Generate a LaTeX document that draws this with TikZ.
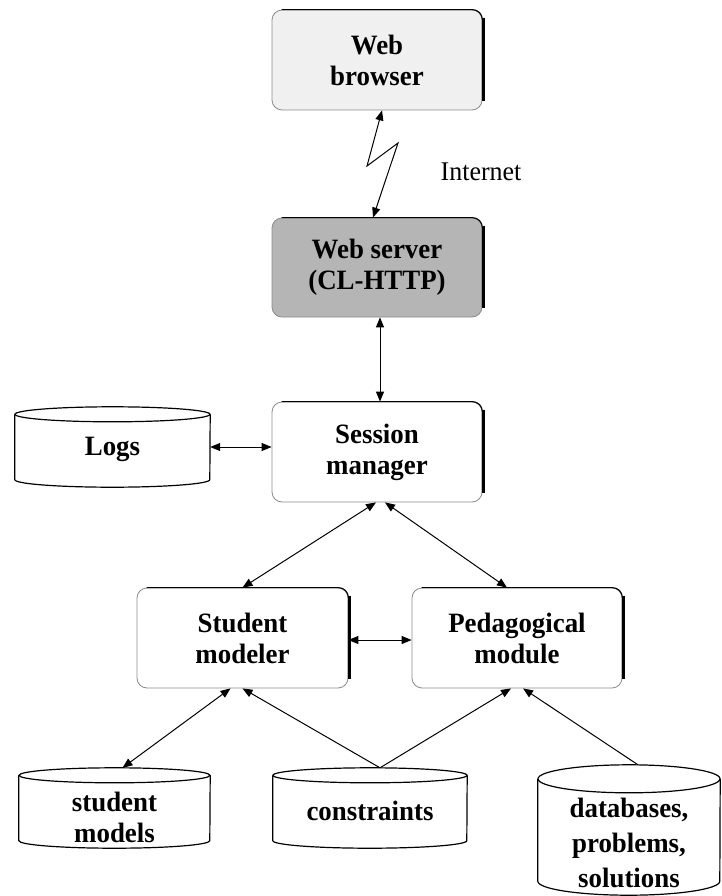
\documentclass[tikz,border=0pt]{standalone}
\usepackage{fontspec}
\setmainfont{Liberation Serif}[FakeStretch=0.96]
\usetikzlibrary{arrows.meta}

% raised-panel edge: dark top line and a heavy right edge
\newcommand{\edgeshade}[1]{%
  \draw[line width=1.1pt,black] ([xshift=10pt]#1.north west) -- ([xshift=-10pt]#1.north east)
    arc[start angle=90,end angle=0,radius=10pt] -- ([yshift=10pt]#1.south east);
  \draw[line width=2.4pt,black] ([xshift=0.9pt,yshift=-8pt]#1.north east) -- ([xshift=0.9pt,yshift=9pt]#1.south east);
}
% drum outline around a storage node: name, half width, lid radius
\newcommand{\drum}[3]{%
  \draw[drumline] ([yshift=-#3]#1.north) ellipse[x radius=#2, y radius=#3];
  \draw[drumline] ([yshift=-#3]#1.north west) -- ([yshift=#3]#1.south west)
    arc[start angle=180,end angle=360,x radius=#2,y radius=#3] -- ([yshift=-#3]#1.north east);
}

\begin{document}
\begin{tikzpicture}[x=1pt,y=1pt,
  font=\fontsize{28}{31}\selectfont\bfseries,
  panel/.style={draw=black!45,line width=0.8pt,rounded corners=10pt,fill=white,
    minimum width=210pt,minimum height=100pt,align=center,inner sep=0pt},
  store/.style={inner sep=0pt,align=center},
  drumline/.style={line width=1.2pt,black},
  link/.style={line width=1pt,black,-{Triangle[length=10pt,width=8pt]}},
  duplex/.style={line width=1pt,black,{Triangle[length=10pt,width=8pt]}-{Triangle[length=10pt,width=8pt]}}]

\fill[white] (0,0) rectangle (721,-896);
\useasboundingbox (0,0) rectangle (721,-896);

% boxes
\node[panel,fill=black!6] (browser) at (377,-60) {Web\\browser};
\edgeshade{browser}
\node[panel,fill=black!29,minimum height=99pt] (server) at (377,-267.5) {Web server\\(CL-HTTP)};
\edgeshade{server}
\node[panel] (session) at (377,-452) {Session\\manager};
\edgeshade{session}
\node[panel,minimum width=211pt] (student) at (242.5,-638) {Student\\modeler};
\edgeshade{student}
\node[panel] (pedagog) at (517,-638) {Pedagogical\\module};
\edgeshade{pedagog}

% storage drums
\node[store,minimum width=195pt,minimum height=80pt,
  label={[yshift=-2pt]center:Logs}] (logs) at (112.5,-447) {};
\drum{logs}{97.5pt}{7.5pt}
\node[store,minimum width=191pt,minimum height=80pt,
  label={[yshift=-9pt,align=center]center:student\\models}] (stmodels) at (114.5,-808) {};
\drum{stmodels}{95.5pt}{7.5pt}
\node[store,minimum width=194pt,minimum height=80pt,
  label={[yshift=-3pt]center:constraints}] (constraints) at (370,-808) {};
\drum{constraints}{97pt}{7.5pt}
\node[store,minimum width=182pt,minimum height=130pt,
  label={[yshift=-13pt,align=center,font=\fontsize{28}{35}\selectfont\bfseries]center:databases,\\problems,\\solutions}] (databases) at (629,-830) {};
\drum{databases}{91pt}{14pt}

% internet link
\coordinate (z1) at (367,-166);
\coordinate (z2) at (398,-143);
\draw[duplex] ([xshift=5pt]browser.south) -- (z1) -- (z2) -- ([xshift=-4pt]server.north);
\node[font=\fontsize{27}{30}\selectfont] (inet) at (481,-172) {Internet};

% connectors
\draw[duplex] ([xshift=3pt]server.south) -- ([xshift=3pt]session.north);
\draw[duplex] (logs.east) -- (logs.east -| session.west);
\draw[duplex] ([xshift=-1pt]session.south) -- (student.north);
\draw[duplex] ([xshift=8pt]session.south) -- ([xshift=-10pt]pedagog.north);
\draw[duplex] ([yshift=-2pt]student.east) -- ([yshift=-2pt]pedagog.west);
\draw[duplex] ([xshift=-12pt]student.south) -- ([xshift=8pt]stmodels.north);
\draw[link] ([xshift=10pt]constraints.north) -- (student.south);
\draw[link] ([xshift=10pt]constraints.north) -- ([xshift=-6pt]pedagog.south);
\draw[link] ([xshift=9pt]databases.north) -- ([xshift=6pt]pedagog.south);

\end{tikzpicture}
\end{document}
